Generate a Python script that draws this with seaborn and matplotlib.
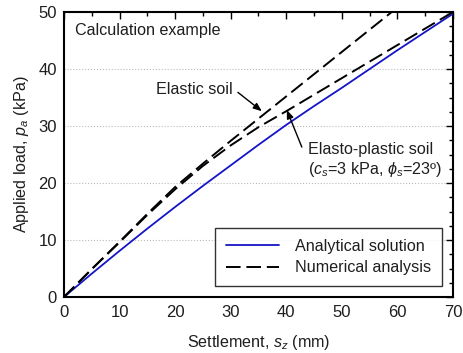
import numpy as np
import pandas as pd
import matplotlib
matplotlib.use("Agg")
import matplotlib.pyplot as plt
from matplotlib.ticker import MultipleLocator
import seaborn as sns

# ---- data ----
settle = [0, 5, 10, 15, 20, 25, 30, 35, 40, 45, 50, 55, 60, 65, 70]
analytical = [0, 4.1, 8.1, 12.0, 15.8, 19.5, 23.1, 26.7, 30.2, 33.5, 36.7, 40.0, 43.3, 46.5, 49.7]
settle_el = [0, 5, 10, 15, 20, 25, 30, 35, 40, 45, 50, 55, 60]
elastic = [0, 4.9, 9.7, 14.6, 19.3, 23.4, 27.4, 31.3, 35.2, 39.1, 43.0, 46.9, 50.8]
elastoplastic = [0, 4.9, 9.6, 14.4, 18.9, 23.0, 26.6, 29.8, 32.6, 35.5, 38.4, 41.3, 44.2, 47.1, 50.0]

x_ticks = [0, 10, 20, 30, 40, 50, 60, 70]
y_ticks = [0, 10, 20, 30, 40, 50]

sns.set_style("white")
plt.rcParams["font.family"] = ["Liberation Sans", "DejaVu Sans"]
plt.rcParams["mathtext.fontset"] = "custom"
plt.rcParams["mathtext.rm"] = "Liberation Sans"
plt.rcParams["mathtext.it"] = "Liberation Sans:italic"

FS = 11.6
TXT = "#1e1e1e"

fig = plt.figure(figsize=(4.63, 3.53), dpi=100)
ax = fig.add_axes([0.1382, 0.1586, 0.8402, 0.8074])

df_a = pd.DataFrame({"s": settle, "p": analytical})
df_e = pd.DataFrame({"s": settle_el, "p": elastic})
df_ep = pd.DataFrame({"s": settle, "p": elastoplastic})

blue = "#1414c8"
sns.lineplot(data=df_a, x="s", y="p", ax=ax, color=blue, lw=1.3,
             label="Analytical solution", zorder=3)
sns.lineplot(data=df_e, x="s", y="p", ax=ax, color="black", lw=1.4,
             zorder=3)
ax.lines[-1].set_dashes((7.5, 3))
sns.lineplot(data=df_ep, x="s", y="p", ax=ax, color="black", lw=1.4,
             label="Numerical analysis", zorder=3)
ax.lines[-1].set_dashes((7.5, 3))

ax.set_xlim(0, 70)
ax.set_ylim(0, 50)
ax.set_xticks(x_ticks)
ax.set_yticks(y_ticks)
ax.xaxis.set_minor_locator(MultipleLocator(5))
ax.yaxis.set_minor_locator(MultipleLocator(2.5))
ax.tick_params(which="both", direction="in", top=True, right=True,
               colors="black", labelcolor=TXT, labelsize=12)
ax.tick_params(which="major", length=5, width=1)
ax.tick_params(which="minor", length=3, width=1)
ax.tick_params(axis="x", pad=6)
ax.tick_params(axis="y", pad=5)
for sp in ax.spines.values():
    sp.set_color("black")
    sp.set_linewidth(1.5)

ax.yaxis.grid(True, linestyle=":", color="#bbbbbb", lw=0.8)
ax.xaxis.grid(False)
ax.set_axisbelow(True)

ax.set_xlabel("Settlement, $s_z$ (mm)", fontsize=FS, color=TXT, labelpad=9)
ax.set_ylabel("Applied load, $p_a$ (kPa)", fontsize=FS, color=TXT, labelpad=5)

ax.text(2.0, 46.8, "Calculation example", fontsize=FS, color=TXT,
        ha="left", va="center")

arrow = dict(arrowstyle="-|>,head_length=0.5,head_width=0.2", color="black", lw=1,
             shrinkA=0, shrinkB=0)
ax.annotate("", xy=(35.6, 32.6), xytext=(31.3, 35.9), arrowprops=arrow)
ax.text(30.3, 36.4, "Elastic soil", fontsize=FS, color=TXT,
        ha="right", va="center")
ax.annotate("", xy=(40.1, 32.8), xytext=(42.8, 26.3), arrowprops=arrow)
ax.text(43.9, 25.9, "Elasto-plastic soil", fontsize=FS, color=TXT,
        ha="left", va="center")
ax.text(43.9, 22.4, "($c_s$=3 kPa, $\\phi_s$=23º)", fontsize=FS, color=TXT,
        ha="left", va="center")

leg = ax.legend(loc="lower right", fontsize=FS, frameon=True, fancybox=False,
                edgecolor="black", handlelength=3.3, borderpad=0.65,
                labelspacing=0.4, handletextpad=1.0, borderaxespad=0.7)
leg.get_frame().set_linewidth(1.0)
for t in leg.get_texts():
    t.set_color(TXT)

fig.savefig("out.png", dpi=100)
